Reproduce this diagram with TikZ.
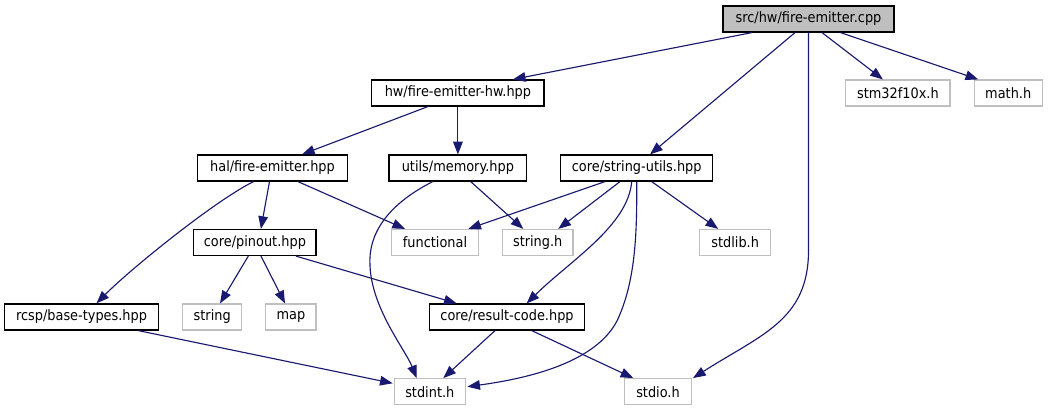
\documentclass[tikz,border=0pt]{standalone}
\usepackage{fontspec}
\setmainfont{DejaVu Sans}[FakeStretch=0.9]
\usetikzlibrary{arrows.meta,calc}
\definecolor{edgeblue}{HTML}{191970}
\definecolor{extgray}{HTML}{BFBFBF}
\begin{document}
\begin{tikzpicture}[x=0.75pt,y=-0.75pt,
  box/.style={draw=black,line width=0.9pt,fill=white,minimum height=19.5pt,inner sep=0pt,
    font=\fontsize{10.75pt}{13pt}\selectfont},
  extbox/.style={box,draw=extgray},
  mainbox/.style={box,fill=extgray},
  edge/.style={draw=edgeblue,line width=0.85pt,-{Triangle[length=9.5pt,width=7.2pt]}}]
\fill[white] (0,0) rectangle (1048,411);
\path[use as bounding box] (0,0) rectangle (1048,411);
% nodes
\node[mainbox,minimum width=128.25pt] (src) at (808.5,19) {src/hw/fire-emitter.cpp};
\node[box,minimum width=129.2pt] (fehw) at (457.9,93) {hw/fire-emitter-hw.hpp};
\node[extbox,minimum width=78.2pt] (stm) at (897.9,93) {stm32f10x.h};
\node[extbox,minimum width=51pt] (math) at (1008.2,93) {math.h};
\node[box,minimum width=112.2pt] (hal) at (272.5,168) {hal/fire-emitter.hpp};
\node[box,minimum width=103.3pt] (mem) at (457.9,168) {utils/memory.hpp};
\node[box,minimum width=114pt] (su) at (636.7,168) {core/string-utils.hpp};
\node[box,minimum width=91.7pt] (pinout) at (254.9,242.5) {core/pinout.hpp};
\node[extbox,minimum width=65pt] (functional) at (435,242.5) {functional};
\node[extbox,minimum width=53pt] (stringh) at (537.7,242.5) {string.h};
\node[extbox,minimum width=53.25pt] (stdlib) at (735.2,242.5) {stdlib.h};
\node[box,minimum width=115.2pt] (rcsp) at (81.5,317) {rcsp/base-types.hpp};
\node[extbox,minimum width=44.25pt] (string) at (212.2,317) {string};
\node[extbox,minimum width=37.7pt] (map) at (290.9,317) {map};
\node[box,minimum width=116.5pt] (rc) at (507,317) {core/result-code.hpp};
\node[extbox,minimum width=53.25pt] (stdint) at (429.8,391.7) {stdint.h};
\node[extbox,minimum width=50pt] (stdio) at (658,391.7) {stdio.h};
% edges from src
\draw[edge] ($(src.south)+(-56.5,0)$) -- ($(fehw.north)+(55,0)$);
\draw[edge] ($(src.south)+(-13.5,0)$) -- ($(su.north)+(13.3,0)$);
\draw[edge] (src.south) -- ($(src.south)+(0,218)$)
  .. controls ($(src.south)+(0,288)$) and ($(stdio.north)+(102,-43)$) .. ($(stdio.north)+(35,0)$);
\draw[edge] ($(src.south)+(13.5,0)$) -- ($(stm.north)+(-15,0)$);
\draw[edge] ($(src.south)+(32,0)$) -- ($(math.north)+(-30,0)$);
% edges from fehw
\draw[edge] ($(fehw.south)+(-30,0)$) -- ($(hal.north)+(29.5,0)$);
\draw[edge] (fehw) -- (mem);
% edges from hal
\draw[edge] ($(hal.south)+(25.5,0)$) -- ($(functional.north)+(-30,0)$);
\draw[edge] ($(hal.south)+(-3,0)$) -- ($(pinout.north)+(6,0)$);
\draw[edge] ($(hal.south)+(-19,0)$) .. controls ($(hal.south)+(-57.5,19)$) and ($(rcsp.north)+(48.5,-34)$) .. ($(rcsp.north)+(15,0)$);
% edges from mem
\draw[edge] ($(mem.south)+(-25.2,0)$) .. controls ($(mem.south)+(-72.9,24.3)$) and ($(mem.south)+(-89.9,54.3)$) .. ($(mem.south)+(-87.9,84.3)$)
  .. controls ($(stdint.north)+(-57.8,-69)$) and ($(stdint.north)+(-24.8,-29)$) .. ($(stdint.north)+(-13.1,0)$);
\draw[edge] ($(mem.south)+(12.8,0)$) -- ($(stringh.north)+(-14.4,0)$);
% edges from su
\draw[edge] ($(su.south)+(-31.7,0)$) -- ($(functional.north)+(33.3,0)$);
\draw[edge] ($(su.south)+(-16.7,0)$) -- ($(stringh.north)+(20.6,0)$);
\draw[edge] ($(su.south)+(-5,0)$) .. controls ($(su.south)+(-8.7,44.3)$) and ($(rc.north)+(63,-42.7)$) .. ($(rc.north)+(19.7,0)$);
\draw[edge] (su.south) .. controls ($(su.south)+(0.3,49.3)$) and ($(su.south)+(-0.7,99.3)$) .. ($(su.south)+(-19.7,139.3)$)
  .. controls ($(stdint.east)+(129.7,-29.7)$) and ($(stdint.east)+(64.7,-13.7)$) .. ($(stdint.east)+(1.4,-5)$);
\draw[edge] ($(su.south)+(15,0)$) -- ($(stdlib.north)+(-17,0)$);
% edges from pinout
\draw[edge] ($(pinout.south)+(-6.6,0)$) -- ($(string.north)+(7.8,0)$);
\draw[edge] ($(pinout.south)+(6.1,0)$) -- ($(map.north)+(-5.9,0)$);
\draw[edge] ($(pinout.south)+(41.1,0)$) -- ($(rc.north)+(-50.3,0)$);
% edges from rcsp and rc
\draw[edge] ($(rcsp.south)+(56.8,0)$) -- ($(stdint.west)+(-1,-8.4)$);
\draw[edge] ($(rc.south)+(-12,0)$) -- ($(stdint.north)+(13.5,0)$);
\draw[edge] ($(rc.south)+(24.7,0)$) -- ($(stdio.north)+(-24.7,0)$);
\end{tikzpicture}
\end{document}
